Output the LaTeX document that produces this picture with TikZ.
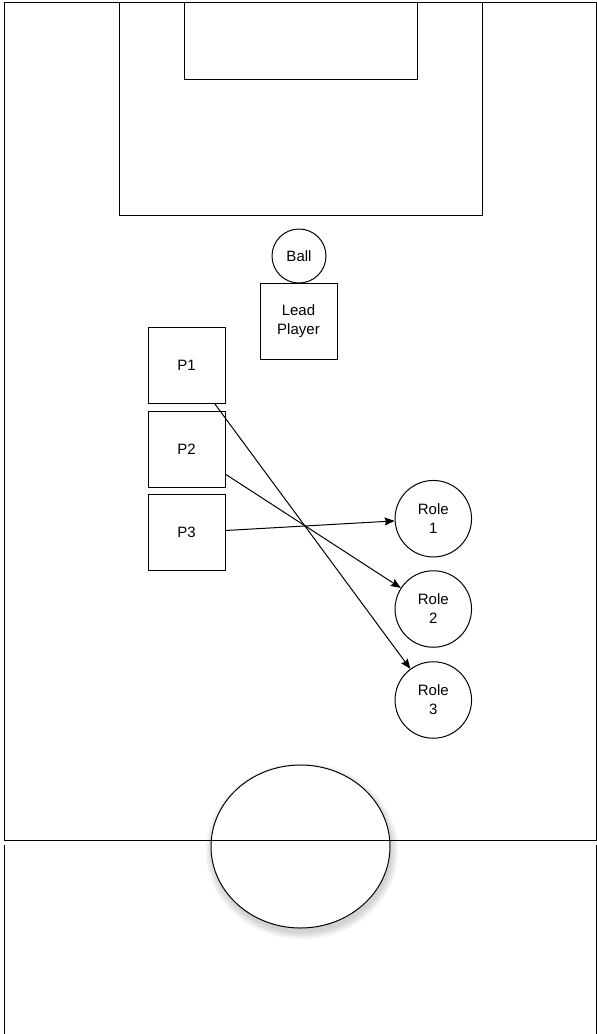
\documentclass[tikz,border=0pt]{standalone}
\usepackage{fontspec}
\setmainfont{Liberation Sans}
\usetikzlibrary{arrows.meta}
\tikzset{
  lineart/.style={draw=black, line width=1pt},
  txt/.style={font=\fontsize{15}{19}\selectfont, align=center, inner sep=0pt},
  player/.style={lineart, txt, rectangle, minimum width=77pt, minimum height=76pt, fill=white},
  rolecirc/.style={lineart, txt, circle, minimum size=76.5pt, fill=white},
  move/.style={line width=1pt, -{Stealth[length=10pt,width=8pt,inset=1.5pt]}},
}
\begin{document}
\begin{tikzpicture}[x=1pt,y=-1pt]
\useasboundingbox (0,0) rectangle (597,1034);
% centre circle with soft shadow
\foreach \i in {1,...,8}{
  \fill[black, opacity=0.025] (302,851) ellipse [x radius={88.5+\i}, y radius={80.5+\i}];
}
\fill[white] (300.5,846.5) ellipse [x radius=89.5, y radius=81.5];
\draw[lineart] (300.5,846.5) ellipse [x radius=89.5, y radius=81.5];
% pitch lines
\draw[lineart] (4.5,2.5) rectangle (596,840);
\draw[lineart] (119,2.5) rectangle (482.5,215);
\draw[lineart] (184.5,2.5) rectangle (417,79);
\draw[lineart] (4.5,845) -- (4.5,1034);
\draw[lineart] (596,845) -- (596,1034);
% ball and lead player
\node[lineart, txt, circle, minimum size=54pt] (ball) at (299,256) {Ball};
\node[player] (lead) at (298.5,321) {Lead\\Player};
% players
\node[player] (p1) at (186.5,365.3) {P1};
\node[player] (p2) at (186.5,449) {P2};
\node[player] (p3) at (186.5,532.7) {P3};
% roles
\node[rolecirc] (r1) at (433.3,518.7) {Role\\1};
\node[rolecirc] (r2) at (433.3,609) {Role\\2};
\node[rolecirc] (r3) at (433.3,700) {Role\\3};
% moves
\draw[move] (p1) -- (r3);
\draw[move] (p2) -- (r2);
\draw[move] (p3) -- (r1);
\end{tikzpicture}
\end{document}
